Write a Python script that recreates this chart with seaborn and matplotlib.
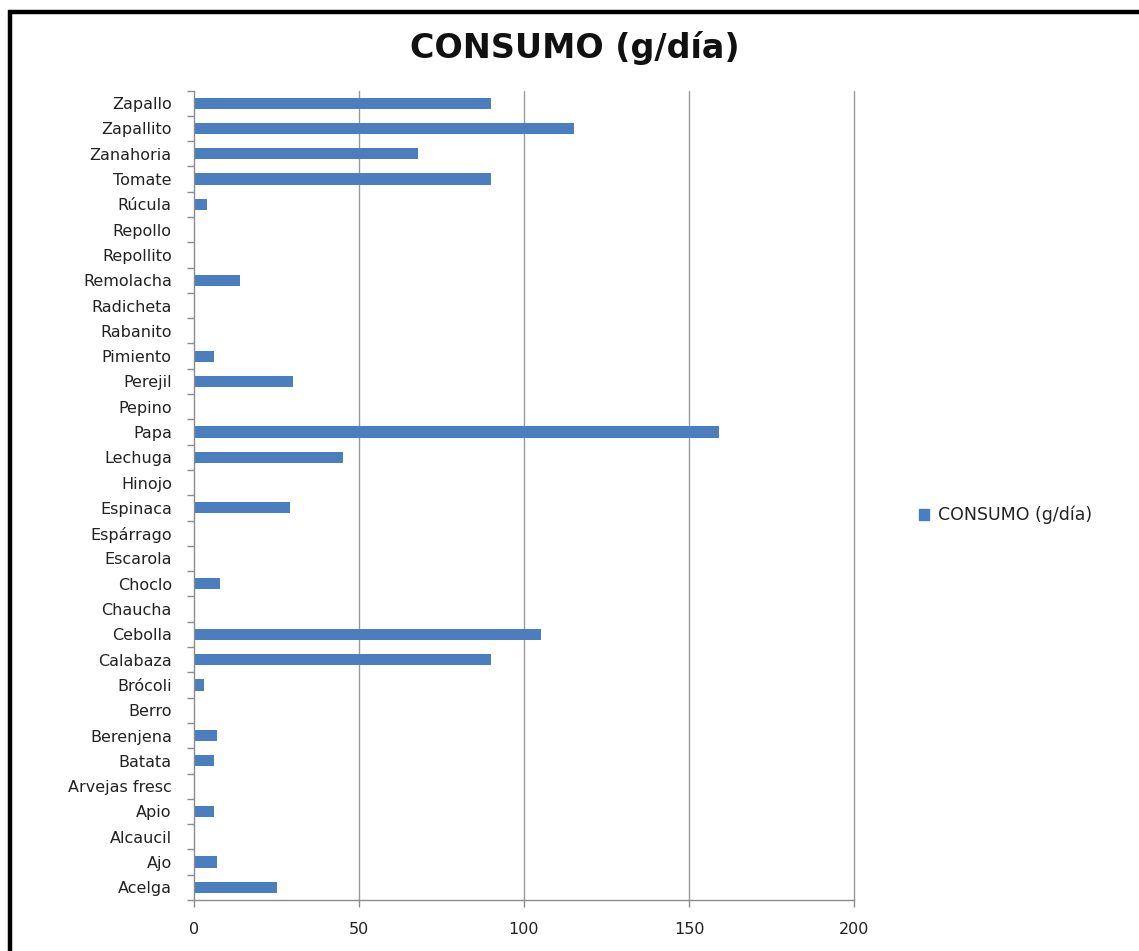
import matplotlib
matplotlib.use("Agg")
import matplotlib.pyplot as plt
from matplotlib.patches import Rectangle
from matplotlib.ticker import FixedLocator, NullFormatter
import seaborn as sns
import pandas as pd

# Vegetables, listed top to bottom
verduras = [
    "Zapallo", "Zapallito", "Zanahoria", "Tomate", "Rúcula", "Repollo",
    "Repollito", "Remolacha", "Radicheta", "Rabanito", "Pimiento", "Perejil",
    "Pepino", "Papa", "Lechuga", "Hinojo", "Espinaca", "Espárrago",
    "Escarola", "Choclo", "Chaucha", "Cebolla", "Calabaza", "Brócoli",
    "Berro", "Berenjena", "Batata", "Arvejas fresc", "Apio", "Alcaucil",
    "Ajo", "Acelga",
]
# Daily consumption in grams
consumo = [
    90, 115, 68, 90, 4, 0,
    0, 14, 0, 0, 6, 30,
    0, 159, 45, 0, 29, 0,
    0, 8, 0, 105, 90, 3,
    0, 7, 6, 0, 6, 0,
    7, 25,
]
serie = "CONSUMO (g/día)"
x_ticks = [0, 50, 100, 150, 200]

df = pd.DataFrame({"verdura": verduras, "consumo": consumo})

sns.set_theme(style="white")
plt.rcParams["font.family"] = ["DejaVu Sans"]

W, H = 1139, 951
fig = plt.figure(figsize=(W / 100, H / 100), dpi=100)
ax = fig.add_axes([194 / W, 1 - 900 / H, 660 / W, 809.5 / H])

bar_color = "#4A7EBE"
sns.barplot(data=df, x="consumo", y="verdura", order=verduras, orient="h",
            color=bar_color, width=0.44, saturation=1, linewidth=0, ax=ax)

ax.set_xlim(0, 200)
ax.set_ylim(len(verduras) - 0.5, -0.5)
ax.set_xlabel("")
ax.set_ylabel("")

grid_color = "#8C8C8C"
ax.set_xticks(x_ticks)
ax.set_xticklabels([str(v) for v in x_ticks])
for v in x_ticks[1:]:
    ax.axvline(v, color="#9A9A9A", lw=1.0, zorder=0, clip_on=False)

for side in ["top", "right"]:
    ax.spines[side].set_visible(False)
for side in ["left", "bottom"]:
    ax.spines[side].set_color(grid_color)
    ax.spines[side].set_linewidth(1.0)

# category ticks sit between the bars
ax.yaxis.set_minor_locator(FixedLocator([i - 0.5 for i in range(len(verduras) + 1)]))
ax.yaxis.set_minor_formatter(NullFormatter())
ax.tick_params(axis="y", which="major", length=0, pad=16, labelsize=11.5,
               labelcolor="#222222")
ax.tick_params(axis="y", which="minor", length=5, width=1.0, color=grid_color,
               direction="out", left=True)
ax.tick_params(axis="x", which="major", length=5, width=1.0, color=grid_color,
               direction="out", bottom=True, pad=11, labelsize=11.5,
               labelcolor="#222222")

fig.text(575 / W, 1 - 48 / H, serie, ha="center", va="center",
         fontsize=24, fontweight="bold", color="#111111")

handle = Rectangle((0, 0), 1, 1, color=bar_color)
fig.legend([handle], [serie], loc="center left",
           bbox_to_anchor=(903 / W, 1 - 515 / H), frameon=False,
           fontsize=12.5, handlelength=0.6, handleheight=0.6,
           handletextpad=0.5, labelcolor="#222222")

# outer frame of the chart area
fig.patches.append(Rectangle((10 / W, -0.1), 1.2, 1 - 12 / H + 0.1,
                             transform=fig.transFigure, fill=False,
                             edgecolor="black", lw=3.2, zorder=10))

fig.savefig("out.png", dpi=100, facecolor="white")
